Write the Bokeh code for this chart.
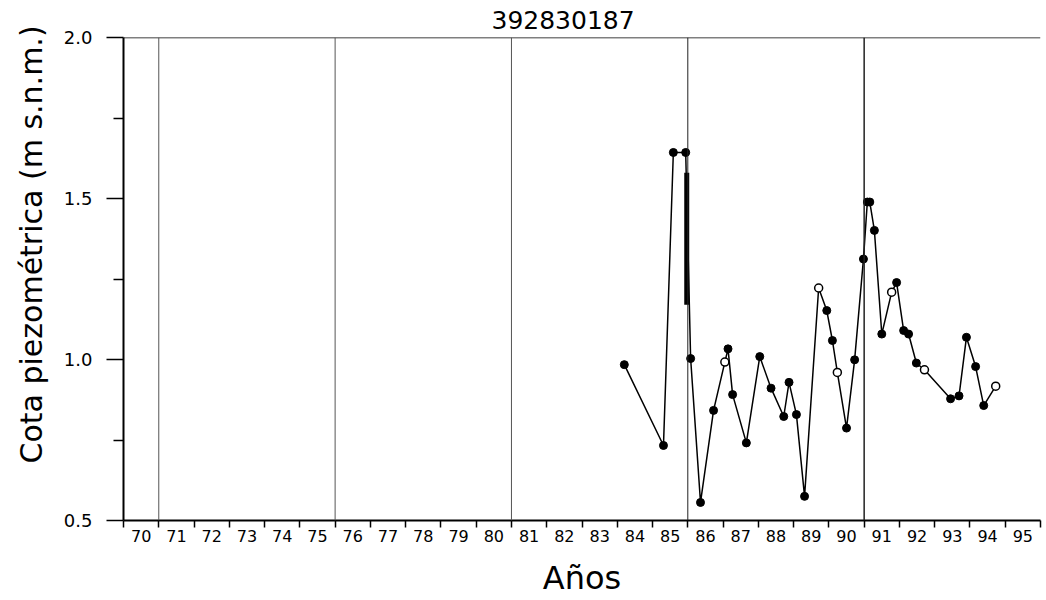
from bokeh.plotting import figure
from bokeh.models import FixedTicker, Span, Range1d, Title
from bokeh.embed import file_html
from bokeh.resources import INLINE

# ---- data ----
years = [1984.20, 1985.31, 1985.59, 1985.94, 1986.08, 1986.36, 1986.73, 1987.05,
         1987.14, 1987.27, 1987.66, 1988.04, 1988.36, 1988.72, 1988.87, 1989.08,
         1989.31, 1989.71, 1989.94, 1990.10, 1990.24, 1990.50, 1990.73, 1990.98,
         1991.09, 1991.16, 1991.29, 1991.50, 1991.78, 1991.92, 1992.12, 1992.26,
         1992.48, 1992.71, 1993.45, 1993.69, 1993.90, 1994.16, 1994.39, 1994.73]
levels = [0.984, 0.733, 1.643, 1.643, 1.003, 0.556, 0.842, 0.992,
          1.033, 0.891, 0.741, 1.009, 0.911, 0.823, 0.929, 0.829,
          0.575, 1.222, 1.152, 1.059, 0.960, 0.787, 0.999, 1.312,
          1.489, 1.489, 1.401, 1.079, 1.209, 1.239, 1.090, 1.079,
          0.989, 0.968, 0.878, 0.887, 1.069, 0.978, 0.857, 0.917]
open_marker = [0, 0, 0, 0, 0, 0, 0, 1,
               0, 0, 0, 0, 0, 0, 0, 0,
               0, 1, 0, 0, 1, 0, 0, 0,
               0, 0, 0, 0, 1, 0, 0, 0,
               0, 1, 0, 0, 0, 0, 0, 1]
spike_x = [1985.97, 1985.97]
spike_y = [1.17, 1.58]
grid_years = [1971, 1976, 1981, 1986, 1991]
tick_years = list(range(1970, 1997))
tick_labels = ["%02d" % (y % 100) for y in range(1970, 1996)]
y_ticks = [0.5, 1.0, 1.5, 2.0]
y_minor = [0.75, 1.25, 1.75]
y_labels = ["0.5", "1.0", "1.5", "2.0"]
title_text = "392830187"
y_title = "Cota piezométrica (m s.n.m.)"
x_title = "Años"

FONT = "DejaVu Sans"

p = figure(width=1046, height=600, output_backend="svg", toolbar_location=None,
           x_range=Range1d(1970, 1996), y_range=Range1d(0.5, 2.0),
           min_border_left=123, min_border_right=6, min_border_top=37,
           min_border_bottom=80, title=title_text)
p.outline_line_color = None
p.xgrid.visible = False
p.ygrid.visible = False
p.background_fill_color = "white"
p.border_fill_color = "white"

p.title.align = "left"
p.title.offset = 368
p.title.standoff = 17
p.title.text_font = FONT
p.title.text_font_size = "25px"
p.title.text_font_style = "normal"
p.title.text_color = "black"

# x axis: labels centered between yearly ticks
xa = p.xaxis[0]
xa.ticker = FixedTicker(ticks=[y + 0.5 for y in range(1970, 1996)], minor_ticks=tick_years)
xa.major_label_overrides = {y + 0.5: lab for y, lab in zip(range(1970, 1996), tick_labels)}
xa.major_tick_out = 0
xa.major_tick_in = 0
xa.minor_tick_out = 7
xa.minor_tick_in = 0
xa.minor_tick_line_color = "black"
xa.minor_tick_line_width = 1.5
xa.axis_line_width = 2
xa.axis_line_color = "black"
xa.major_label_standoff = 2
xa.major_label_text_font = FONT
xa.major_label_text_font_size = "16px"
xa.major_label_text_color = "black"
xa.axis_label = x_title
xa.axis_label_text_font = FONT
xa.axis_label_text_font_size = "32px"
xa.axis_label_text_font_style = "normal"
xa.axis_label_text_color = "black"
xa.axis_label_standoff = 14

ya = p.yaxis[0]
ya.ticker = FixedTicker(ticks=y_ticks, minor_ticks=y_minor)
ya.major_label_overrides = {t: l for t, l in zip(y_ticks, y_labels)}
ya.major_tick_out = 17
ya.major_tick_in = 0
ya.minor_tick_out = 10
ya.minor_tick_in = 0
ya.major_tick_line_width = 1.5
ya.minor_tick_line_width = 1.5
ya.major_tick_line_color = "black"
ya.minor_tick_line_color = "black"
ya.axis_line_width = 2
ya.axis_line_color = "black"
ya.major_label_standoff = 14
ya.major_label_text_font = FONT
ya.major_label_text_font_size = "18px"
ya.major_label_text_color = "black"

# y-axis title as a side title so it can be shifted along the axis
yt = Title(text=y_title, align="left", offset=57, standoff=23, text_font=FONT,
           text_font_size="30px", text_font_style="normal", text_color="black")
p.add_layout(yt, "left")

# top border
p.add_layout(Span(location=2.0, dimension="width", line_color="black", line_width=1.5))

# vertical reference lines
for gy in grid_years:
    col = "#222222" if gy in (1986, 1991) else "#555555"
    w = 1.5 if gy == 1991 else 1
    p.add_layout(Span(location=gy, dimension="height", line_color=col, line_width=w))

p.line(spike_x, spike_y, line_color="black", line_width=5)
p.line(years, levels, line_color="black", line_width=1.5)

fx = [x for x, o in zip(years, open_marker) if not o]
fy = [y for y, o in zip(levels, open_marker) if not o]
ox = [x for x, o in zip(years, open_marker) if o]
oy = [y for y, o in zip(levels, open_marker) if o]
p.scatter(fx, fy, size=8, marker="circle", fill_color="black", line_color="black")
p.scatter(ox, oy, size=8, marker="circle", fill_color="white", line_color="black", line_width=1.5)

open("out.html", "w").write(file_html(p, INLINE))
